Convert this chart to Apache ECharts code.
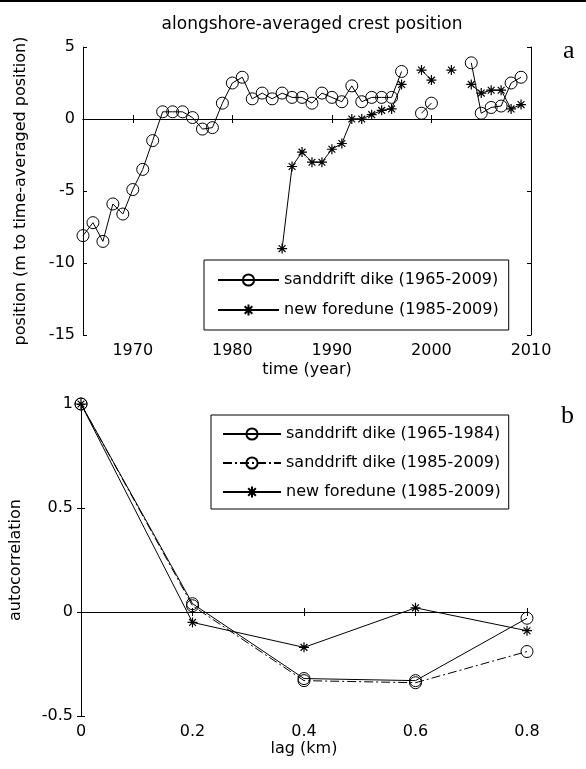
<html>
<head>
    <meta charset="utf-8" />
    <script src="https://cdn.jsdelivr.net/npm/echarts@6/dist/echarts.min.js"></script>
    <style>
        body { margin: 0; background: #fff; }
    </style>
</head>
<body>
    <div id="main" style="width:586px;height:769px;"></div>
    <script>
        // panel a : crest position per year (null = no survey)
        var dikeYears = [1965, 1966, 1967, 1968, 1969, 1970, 1971, 1972, 1973, 1974, 1975, 1976, 1977, 1978, 1979,
            1980, 1981, 1982, 1983, 1984, 1985, 1986, 1987, 1988, 1989, 1990, 1991, 1992, 1993, 1994, 1995, 1996,
            1997, 1998, 1999, 2000, 2001, 2002, 2003, 2004, 2005, 2006, 2007, 2008, 2009];
        var dikePos = [-8.1, -7.2, -8.5, -5.9, -6.6, -4.9, -3.5, -1.5, 0.5, 0.5, 0.5, 0.1, -0.7, -0.6, 1.1,
            2.5, 2.9, 1.4, 1.8, 1.4, 1.8, 1.5, 1.5, 1.1, 1.8, 1.5, 1.2, 2.3, 1.2, 1.5, 1.5, 1.5,
            3.3, null, 0.4, 1.1, null, null, null, 3.9, 0.4, 0.8, 0.9, 2.5, 2.9];
        var duneYears = [1985, 1986, 1987, 1988, 1989, 1990, 1991, 1992, 1993, 1994, 1995, 1996,
            1997, 1998, 1999, 2000, 2001, 2002, 2003, 2004, 2005, 2006, 2007, 2008, 2009];
        var dunePos = [-9.0, -3.3, -2.3, -3.0, -3.0, -2.1, -1.7, 0.0, 0.0, 0.3, 0.6, 0.7,
            2.4, null, 3.4, 2.7, null, 3.4, null, 2.4, 1.8, 2.0, 2.0, 0.7, 1.0];
        var yearTicks = [1970, 1980, 1990, 2000, 2010];

        // panel b : autocorrelation vs lag
        var lags = [0, 0.2, 0.4, 0.6, 0.8];
        var acfDikeEarly = [1, 0.04, -0.32, -0.33, -0.03];
        var acfDikeLate = [1, 0.03, -0.33, -0.34, -0.19];
        var acfDune = [1, -0.05, -0.17, 0.02, -0.09];

        var FONT = 'DejaVu Sans';
        var STAR = 'path://M5 0L5 10M0 5L10 5M1.6 1.6L8.4 8.4M1.6 8.4L8.4 1.6';

        function pairs(xs, ys) {
            var out = [];
            for (var i = 0; i < xs.length; i++) {
                out.push([xs[i], ys[i] === null ? '-' : ys[i]]);
            }
            return out;
        }

        var tickStyle = { show: true, inside: true, length: 4, lineStyle: { color: '#000' } };
        var lineAx = { show: true, lineStyle: { color: '#000', width: 1 } };
        var lbl = { color: '#000', fontFamily: FONT, fontSize: 16 };

        function circleSeries(name, xi, yi, data, dash) {
            return {
                name: name, type: 'line', xAxisIndex: xi, yAxisIndex: yi, data: data,
                symbol: 'circle', symbolSize: 12,
                itemStyle: { color: 'rgba(255,255,255,0)', borderColor: '#000', borderWidth: 1 },
                lineStyle: { color: '#000', width: 1, type: dash || 'solid' }
            };
        }
        function starSeries(name, xi, yi, data) {
            return {
                name: name, type: 'line', xAxisIndex: xi, yAxisIndex: yi, data: data,
                symbol: STAR, symbolSize: 10,
                itemStyle: { color: '#000', borderColor: '#000', borderWidth: 1.2 },
                lineStyle: { color: '#000', width: 1 }
            };
        }
        var zeroLine = {
            silent: true, symbol: ['none', 'none'], label: { show: false },
            lineStyle: { color: '#000', type: 'solid', width: 1 },
            data: [{ yAxis: 0 }]
        };

        var myChart = echarts.init(document.getElementById('main'));
        var s0 = circleSeries('sanddrift dike (1965-2009)', 0, 0, pairs(dikeYears, dikePos));
        s0.markLine = zeroLine;
        var s3 = circleSeries('sanddrift dike (1965-1984)', 2, 2, pairs(lags, acfDikeEarly));
        s3.markLine = zeroLine;

        option = {
            animation: false,
            backgroundColor: '#fff',
            title: {
                text: 'alongshore-averaged crest position',
                left: 307, top: 11, textAlign: 'center',
                textStyle: { fontFamily: FONT, fontSize: 17, fontWeight: 'normal', color: '#000' }
            },
            grid: [
                { left: 83, right: 55, top: 47, height: 288 },
                { left: 80, right: 59, top: 404, height: 312 }
            ],
            xAxis: [
                {
                    type: 'value', gridIndex: 0, min: 1965, max: 2010, position: 'bottom',
                    name: 'time (year)', nameLocation: 'middle', nameGap: 27,
                    nameTextStyle: lbl,
                    axisLine: lineAx, splitLine: { show: false },
                    axisTick: Object.assign({ customValues: yearTicks }, tickStyle),
                    axisLabel: Object.assign({
                        customValues: yearTicks, margin: 8,
                        formatter: function (v) { return String(v); }
                    }, lbl)
                },
                {
                    type: 'value', gridIndex: 0, min: 1965, max: 2010, position: 'top',
                    axisLine: lineAx, splitLine: { show: false },
                    axisTick: Object.assign({ customValues: yearTicks }, tickStyle),
                    axisLabel: { show: false }
                },
                {
                    type: 'value', gridIndex: 1, min: 0, max: 0.8, interval: 0.2, position: 'bottom',
                    name: 'lag (km)', nameLocation: 'middle', nameGap: 25,
                    nameTextStyle: lbl,
                    axisLine: lineAx, splitLine: { show: false }, axisTick: tickStyle,
                    axisLabel: Object.assign({ margin: 8 }, lbl)
                },
                {
                    type: 'value', gridIndex: 1, min: 0, max: 0.8, interval: 0.2, position: 'top',
                    axisLine: lineAx, splitLine: { show: false }, axisTick: tickStyle,
                    axisLabel: { show: false }
                }
            ],
            yAxis: [
                {
                    type: 'value', gridIndex: 0, min: -15, max: 5, interval: 5, position: 'left',
                    name: 'position (m to time-averaged position)', nameLocation: 'middle', nameGap: 54,
                    nameTextStyle: lbl,
                    axisLine: lineAx, splitLine: { show: false }, axisTick: tickStyle,
                    axisLabel: Object.assign({ margin: 8 }, lbl)
                },
                {
                    type: 'value', gridIndex: 0, min: -15, max: 5, interval: 5, position: 'right',
                    axisLine: lineAx, splitLine: { show: false }, axisTick: tickStyle,
                    axisLabel: { show: false }
                },
                {
                    type: 'value', gridIndex: 1, min: -0.5, max: 1, interval: 0.5, position: 'left',
                    name: 'autocorrelation', nameLocation: 'middle', nameGap: 57,
                    nameTextStyle: lbl,
                    axisLine: lineAx, splitLine: { show: false }, axisTick: tickStyle,
                    axisLabel: Object.assign({ margin: 8 }, lbl)
                },
                {
                    type: 'value', gridIndex: 1, min: -0.5, max: 1, interval: 0.5, position: 'right',
                    axisLine: lineAx, splitLine: { show: false }, axisTick: tickStyle,
                    axisLabel: { show: false }
                }
            ],
            legend: [
                {
                    orient: 'vertical', left: 204, top: 260,
                    data: ['sanddrift dike (1965-2009)', 'new foredune (1985-2009)'],
                    itemWidth: 61, itemHeight: 14, itemGap: 14,
                    padding: [12, 10, 12, 13],
                    borderColor: '#000', borderWidth: 1, backgroundColor: '#fff',
                    textStyle: lbl, selectedMode: false
                },
                {
                    orient: 'vertical', left: 211, top: 415,
                    data: ['sanddrift dike (1965-1984)', 'sanddrift dike (1985-2009)', 'new foredune (1985-2009)'],
                    itemWidth: 58, itemHeight: 14, itemGap: 13,
                    padding: [11, 8, 9, 11],
                    borderColor: '#000', borderWidth: 1, backgroundColor: '#fff',
                    textStyle: lbl, selectedMode: false
                }
            ],
            graphic: [
                { type: 'rect', shape: { x: 0, y: 0, width: 586, height: 2 }, style: { fill: '#000' } },
                { type: 'text', left: 563, top: 38, style: { text: 'a', fontFamily: 'Liberation Serif', fontSize: 26, fill: '#000' } },
                { type: 'text', left: 561, top: 403, style: { text: 'b', fontFamily: 'Liberation Serif', fontSize: 26, fill: '#000' } }
            ],
            series: [
                s0,
                starSeries('new foredune (1985-2009)', 0, 0, pairs(duneYears, dunePos)),
                s3,
                circleSeries('sanddrift dike (1985-2009)', 2, 2, pairs(lags, acfDikeLate), [9, 3, 2, 3]),
                starSeries('new foredune (1985-2009)', 2, 2, pairs(lags, acfDune))
            ]
        };
        myChart.setOption(option);
    </script>
</body>
</html>
